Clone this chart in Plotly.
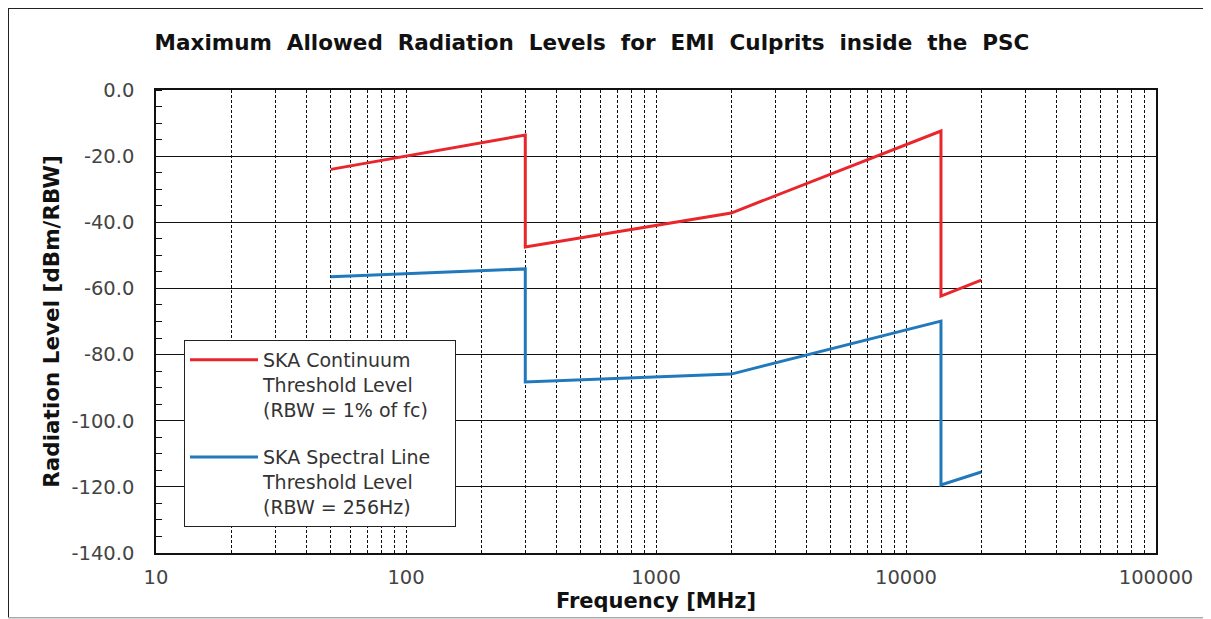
import plotly.graph_objects as go

freq_mhz = [50, 300, 300, 2000, 13800, 13800, 20000]
continuum_dbm = [-24.0, -13.6, -47.5, -37.2, -12.4, -62.3, -57.5]
spectral_dbm = [-56.5, -54.1, -88.3, -85.9, -69.9, -119.4, -115.5]

name_cont = "SKA Continuum<br>Threshold Level<br>(RBW = 1% of fc)"
name_spec = "SKA Spectral Line&nbsp;&nbsp;&nbsp;<br>Threshold Level<br>(RBW = 256Hz)"

x_decades = [10, 100, 1000, 10000, 100000]
x_ticktext = ["10", "100", "1000", "10000", "100000"]
y_ticks = [0, -20, -40, -60, -80, -100, -120, -140]
y_ticktext = ["0.0", "-20.0", "-40.0", "-60.0", "-80.0", "-100.0", "-120.0", "-140.0"]

# vertical grid at every 1..9 multiple of each decade
grid_vals = []
grid_text = []
for i, d in enumerate(x_decades[:-1]):
    for m in range(1, 10):
        grid_vals.append(d * m)
        grid_text.append(x_ticktext[i] if m == 1 else "")
grid_vals.append(x_decades[-1])
grid_text.append(x_ticktext[-1])

fig = go.Figure()
fig.add_trace(go.Scatter(x=freq_mhz, y=continuum_dbm, mode="lines", name=name_cont,
                         legendgroup="a",
                         line=dict(color="#e8262b", width=3)))
fig.add_trace(go.Scatter(x=freq_mhz, y=spectral_dbm, mode="lines", name=name_spec,
                         legendgroup="b",
                         line=dict(color="#2079bd", width=3)))

font_main = "DejaVu Sans"

fig.update_layout(
    width=1204, height=612,
    margin=dict(l=148, r=56, t=82, b=67),
    paper_bgcolor="white", plot_bgcolor="white",
    title=dict(text="<b>Maximum  Allowed  Radiation  Levels  for  EMI  Culprits  inside  the  PSC</b>",
               x=0.436, xref="paper", xanchor="center", y=0.943, yref="container", yanchor="middle",
               font=dict(family=font_main, size=21.5, color="#111111")),
    font=dict(family=font_main, size=19, color="#444444"),
    showlegend=True,
    legend=dict(x=0.028, y=0.46, xanchor="left", yanchor="top",
                bgcolor="white", bordercolor="#222222", borderwidth=1,
                font=dict(family=font_main, size=19, color="#333333"),
                valign="top", tracegroupgap=20, itemwidth=68),
    xaxis=dict(type="log", range=[1, 5],
               tickvals=grid_vals, ticktext=grid_text, ticks="",
               showgrid=True, gridcolor="#111111", gridwidth=1, griddash="3px,2px",
               showline=True, linecolor="#111111", linewidth=1.5, mirror=True,
               zeroline=False, ticklabelstandoff=6,
               tickfont=dict(family=font_main, size=19.5, color="#444444"),
               title=dict(text="<b>Frequency [MHz]</b>", standoff=5,
                          font=dict(family=font_main, size=21, color="#111111"))),
    yaxis=dict(range=[-140, 0], tickvals=y_ticks, ticktext=y_ticktext,
               ticks="", showgrid=True, gridcolor="#111111", gridwidth=1,
               showline=True, linecolor="#111111", linewidth=1.5, mirror=True,
               zeroline=False, ticklabelstandoff=16,
               minor=dict(dtick=5, ticks="inside", ticklen=6, tickcolor="#111111", tickwidth=1, showgrid=False),
               tickfont=dict(family=font_main, size=19.5, color="#444444"),
               title=dict(text="<b>Radiation Level [dBm/RBW]</b>", standoff=6,
                          font=dict(family=font_main, size=21.5, color="#111111"))),
    shapes=[
        dict(type="line", xref="paper", yref="paper", x0=-0.148, x1=1.055, y0=1.177, y1=1.177,
             line=dict(color="#222222", width=2)),
        dict(type="line", xref="paper", yref="paper", x0=-0.148, x1=-0.148, y0=-0.140, y1=1.177,
             line=dict(color="#222222", width=2)),
        dict(type="line", xref="paper", yref="paper", x0=-0.148, x1=1.055, y0=-0.140, y1=-0.140,
             line=dict(color="#aaaaaa", width=1.5)),
        dict(type="line", xref="paper", yref="paper", x0=1.055, x1=1.055, y0=-0.140, y1=1.177,
             line=dict(color="#dddddd", width=1.5)),
    ],
)

fig.write_html("out.html")
